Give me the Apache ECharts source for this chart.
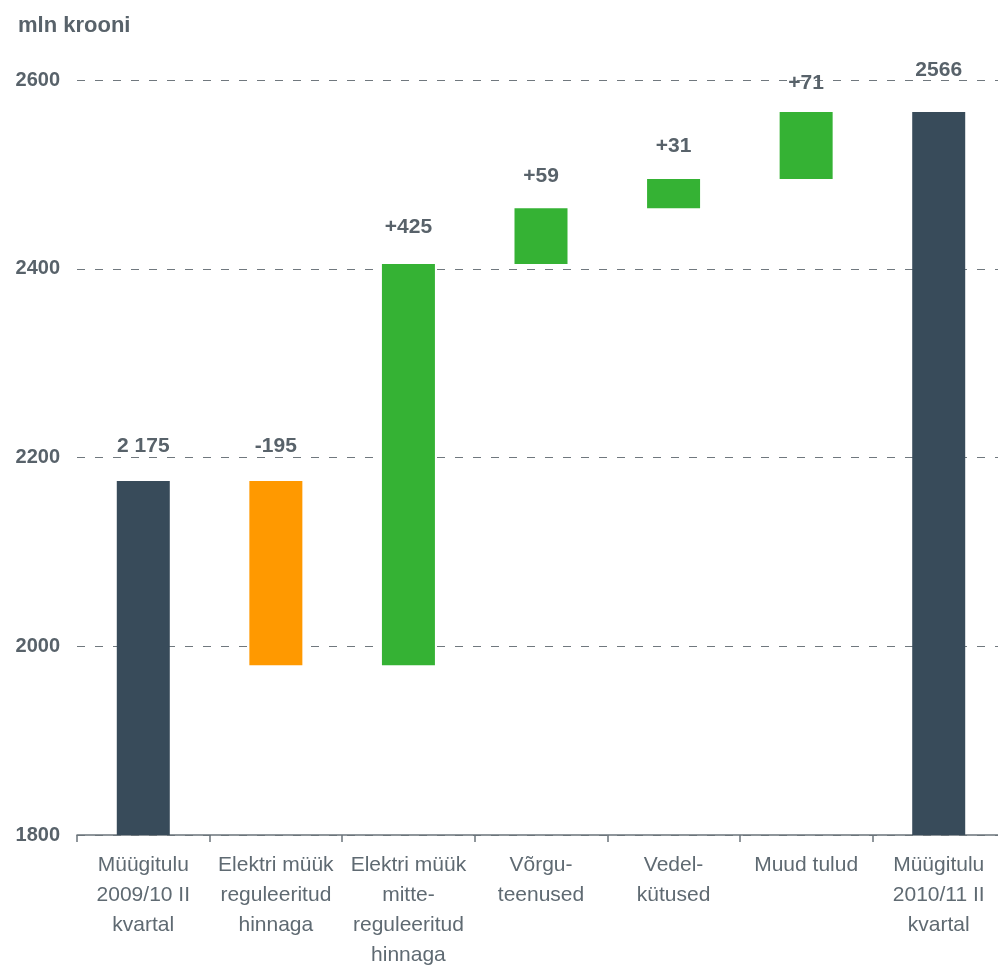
<!DOCTYPE html>
<html>
<head>
<meta charset="utf-8">
<script src="https://cdn.jsdelivr.net/npm/echarts@6/dist/echarts.min.js"></script>
<style>
  html, body { margin: 0; padding: 0; background: #fff; }
  #main { width: 998px; height: 967px; }
</style>
</head>
<body>
<div id="main"></div>
<script>
// kategooriad
const categories = [
  'Müügitulu\n2009/10 II\nkvartal',
  'Elektri müük\nreguleeritud\nhinnaga',
  'Elektri müük\nmitte-\nreguleeritud\nhinnaga',
  'Võrgu-\nteenused',
  'Vedel-\nkütused',
  'Muud tulud',
  'Müügitulu\n2010/11 II\nkvartal'
];
// muutused (esimene ja viimane on kogusummad)
const deltas = [2175, -195, 425, 59, 31, 71, 2566];
const isTotal = [true, false, false, false, false, false, true];
const valueLabels = ['2 175', '-195', '+425', '+59', '+31', '+71', '2566'];
const yTicks = { min: 1800, max: 2600, interval: 200 };

const COL_TOTAL = '#384b5a', COL_UP = '#35b234', COL_DOWN = '#ff9900';
const TXT = '#58626a';
const FONT = 'Liberation Sans, Arial, sans-serif';
// sildi kaugus tulba otsast (pildi järgi)
const labelGap = [24, 24, 26, 22, 22, 18, 31];

// nähtamatu alus + nähtav osa
const base = [], shown = [];
let run = 0;
deltas.forEach((d, i) => {
  let color, v;
  if (isTotal[i]) {
    base.push(0); v = d; color = COL_TOTAL; run = d;
  } else if (d >= 0) {
    base.push(run); v = d; color = COL_UP; run += d;
  } else {
    base.push(run + d); v = -d; color = COL_DOWN; run += d;
  }
  shown.push({ value: v, itemStyle: { color: color }, label: { distance: labelGap[i] } });
});

const chart = echarts.init(document.getElementById('main'));
chart.setOption({
  animation: false,
  textStyle: { fontFamily: FONT },
  title: {
    text: 'mln krooni',
    left: 13, top: 10,
    textStyle: { fontSize: 22, fontWeight: 'bold', color: TXT, fontFamily: FONT }
  },
  grid: {
    left: 77, width: 928, top: 80, bottom: 132,
    containLabel: false, outerBoundsMode: 'none'
  },
  xAxis: {
    type: 'category',
    data: categories,
    axisLine: { lineStyle: { color: '#6b747b', width: 1.5 } },
    axisTick: { show: true, length: 7, lineStyle: { color: '#6b747b', width: 1.5 } },
    axisLabel: {
      interval: 0, fontSize: 21, lineHeight: 30, color: '#5f6a72', margin: 15, fontFamily: FONT
    }
  },
  yAxis: {
    type: 'value',
    min: yTicks.min, max: yTicks.max, interval: yTicks.interval,
    axisLine: { show: false },
    axisTick: { show: false },
    axisLabel: {
      fontSize: 20, fontWeight: 'bold', color: TXT, margin: 17, fontFamily: FONT,
      formatter: v => String(v)
    },
    splitLine: { lineStyle: { color: '#70787e', type: [8, 10], width: 1 } }
  },
  series: [
    {
      type: 'bar', stack: 'w', data: base, barWidth: 53,
      itemStyle: { color: 'transparent' }, silent: true
    },
    {
      type: 'bar', stack: 'w', data: shown, barWidth: 53,
      label: {
        show: true, position: 'top',
        fontSize: 21, fontWeight: 'bold', color: TXT, fontFamily: FONT,
        formatter: p => valueLabels[p.dataIndex]
      }
    }
  ]
});
</script>
</body>
</html>
